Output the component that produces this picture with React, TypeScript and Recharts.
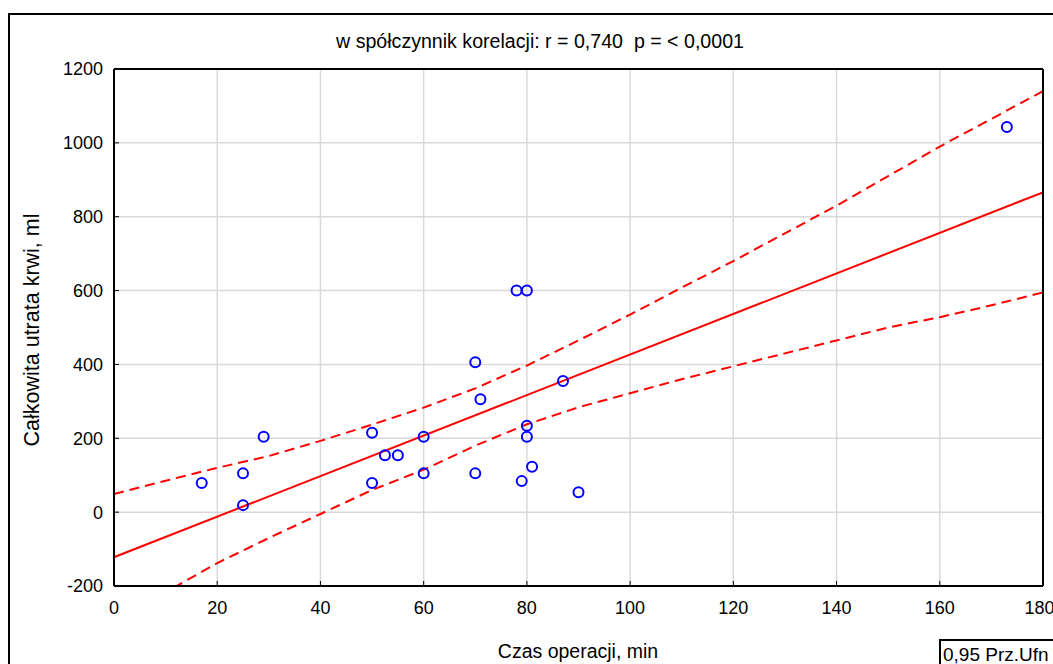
import {
  ComposedChart,
  Scatter,
  Line,
  XAxis,
  YAxis,
  CartesianGrid,
} from "recharts";

// operation time (min) vs. total blood loss (ml)
const opTime = [17, 25, 25, 29, 50, 50, 52.5, 55, 60, 60, 70, 70, 71, 78, 80, 80, 80, 81, 79, 87, 90, 173];
const bloodLoss = [79, 105, 19, 204, 215, 79, 154, 154, 204, 105, 406, 105, 306, 600, 600, 234, 204, 123, 84, 355, 54, 1043];

// regression line end points
const fitX = [0, 180];
const fitY = [-122, 866];

// 0.95 confidence band
const upperX = [0, 10, 20, 30, 40, 50, 60, 70, 80, 90, 100, 110, 120, 130, 140, 150, 160, 170, 180];
const upperY = [49, 85, 120, 152, 193, 237, 283, 335, 397, 465, 535, 608, 680, 755, 830, 910, 990, 1065, 1140];
const lowerX = [11.5, 20, 30, 40, 50, 60, 70, 80, 90, 100, 110, 120, 130, 140, 150, 160, 170, 180];
const lowerY = [-205, -138, -70, -5, 60, 115, 180, 238, 284, 322, 360, 395, 430, 465, 500, 528, 560, 595];

const xTicks = [0, 20, 40, 60, 80, 100, 120, 140, 160, 180];
const yTicks = [-200, 0, 200, 400, 600, 800, 1000, 1200];

const points = opTime.map((x, i) => ({ x, y: bloodLoss[i] }));
const fit = fitX.map((x, i) => ({ x, y: fitY[i] }));
const upper = upperX.map((x, i) => ({ x, y: upperY[i] }));
const lower = lowerX.map((x, i) => ({ x, y: lowerY[i] }));

const FONT = '"Liberation Sans", Arial, sans-serif';

function Ring(props: any) {
  const { cx, cy } = props;
  return <circle cx={cx} cy={cy} r={5} fill="none" stroke="#0000ff" strokeWidth={2} />;
}

export default function App() {
  return (
    <div
      style={{
        position: "absolute",
        left: 0,
        top: 0,
        width: 1053,
        height: 664,
        overflow: "hidden",
        background: "#fff",
        fontFamily: FONT,
      }}
    >
      <div
        style={{
          position: "absolute",
          left: 8,
          top: 13,
          width: 1200,
          height: 800,
          border: "2px solid #000",
        }}
      />
      <div
        style={{
          position: "absolute",
          left: 0,
          top: 30,
          width: 1080,
          textAlign: "center",
          fontSize: 19.6,
          lineHeight: "22px",
          color: "#000",
        }}
      >
        w spółczynnik korelacji: r = 0,740&nbsp;&nbsp;p = &lt; 0,0001
      </div>

      <ComposedChart
        width={1053}
        height={664}
        margin={{ top: 69, right: 10, left: 54, bottom: 48 }}
        style={{ position: "absolute", left: 0, top: 0 }}
      >
        <CartesianGrid stroke="#d9d9d9" strokeWidth={1.5} horizontalValues={yTicks} verticalValues={xTicks} />
        <XAxis
          dataKey="x"
          type="number"
          domain={[0, 180]}
          ticks={xTicks}
          allowDataOverflow
          height={30}
          tickSize={-5}
          tickMargin={20}
          axisLine={{ stroke: "#000", strokeWidth: 2 }}
          tickLine={{ stroke: "#000", strokeWidth: 1 }}
          tick={{ fill: "#000", fontSize: 18, fontFamily: FONT }}
        />
        <XAxis
          xAxisId="top"
          orientation="top"
          mirror
          type="number"
          domain={[0, 180]}
          ticks={xTicks}
          allowDataOverflow
          tickSize={5}
          tick={false}
          axisLine={{ stroke: "#000", strokeWidth: 2 }}
          tickLine={{ stroke: "#000", strokeWidth: 1 }}
        />
        <YAxis
          dataKey="y"
          type="number"
          domain={[-200, 1200]}
          ticks={yTicks}
          allowDataOverflow
          width={60}
          tickSize={-5}
          tickMargin={16}
          axisLine={{ stroke: "#000", strokeWidth: 2 }}
          tickLine={{ stroke: "#000", strokeWidth: 1 }}
          tick={{ fill: "#000", fontSize: 18, fontFamily: FONT }}
        />
        <YAxis
          yAxisId="right"
          orientation="right"
          mirror
          type="number"
          domain={[-200, 1200]}
          ticks={yTicks}
          allowDataOverflow
          tickSize={5}
          tick={false}
          axisLine={{ stroke: "#000", strokeWidth: 2 }}
          tickLine={{ stroke: "#000", strokeWidth: 1 }}
        />
        <Line
          data={upper}
          dataKey="y"
          type="linear"
          stroke="#ff0000"
          strokeWidth={2}
          strokeDasharray="10 6"
          dot={false}
          activeDot={false}
          isAnimationActive={false}
        />
        <Line
          data={lower}
          dataKey="y"
          type="linear"
          stroke="#ff0000"
          strokeWidth={2}
          strokeDasharray="10 6"
          dot={false}
          activeDot={false}
          isAnimationActive={false}
        />
        <Line
          data={fit}
          dataKey="y"
          type="linear"
          stroke="#ff0000"
          strokeWidth={2}
          dot={false}
          activeDot={false}
          isAnimationActive={false}
        />
        <Scatter data={points} dataKey="y" shape={<Ring />} isAnimationActive={false} />
      </ComposedChart>

      <div
        style={{
          position: "absolute",
          left: 32,
          top: 330,
          transform: "translate(-50%, -50%) rotate(-90deg)",
          whiteSpace: "nowrap",
          fontSize: 21.5,
          lineHeight: "24px",
          color: "#000",
        }}
      >
        Całkowita utrata krwi, ml
      </div>
      <div
        style={{
          position: "absolute",
          left: 578,
          top: 640,
          transform: "translateX(-50%)",
          whiteSpace: "nowrap",
          fontSize: 19.5,
          lineHeight: "22px",
          color: "#000",
        }}
      >
        Czas operacji, min
      </div>
      <div
        style={{
          position: "absolute",
          left: 939,
          top: 639,
          width: 200,
          height: 60,
          border: "2px solid #000",
          boxSizing: "border-box",
          paddingLeft: 2,
          paddingTop: 4,
          fontSize: 19,
          lineHeight: "20px",
          whiteSpace: "nowrap",
          color: "#000",
        }}
      >
        0,95 Prz.Ufn
      </div>
    </div>
  );
}
